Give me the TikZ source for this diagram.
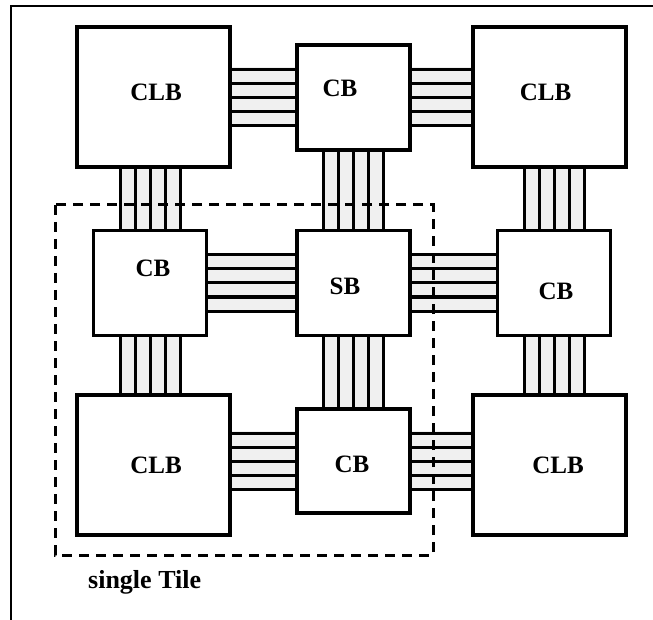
\documentclass[tikz,border=0pt]{standalone}
\usepackage{fontspec}
\setmainfont{Liberation Serif}
\usetikzlibrary{calc, positioning}

\begin{document}
\begin{tikzpicture}[x=1pt, y=-1pt,
    blk/.style={draw, line width=3.5pt, fill=white, inner sep=0pt},
    clb/.style={blk, minimum width=153pt, minimum height=140pt},
    cb/.style={blk, minimum width=113pt, minimum height=105pt},
    lbl/.style={font=\fontsize{25}{30}\selectfont\bfseries, inner sep=0pt},
    wire/.style={line width=3pt},
    bus/.style={fill=gray!12},
    tile/.style={line width=3pt, dash pattern=on 10pt off 7pt}]
  \useasboundingbox (0,0) rectangle (653,620);
  % page frame (top and left only)
  \draw[line width=2pt] (11,620) -- (11,6) -- (653,6);
  % blocks
  \path (153.5,97)  node[clb] (clbtl) {}
        (353.5,97.5) node[cb] (cbt) {}
        (549.5,97)  node[clb] (clbtr) {}
        (150,283)   node[cb] (cbl) {}
        (353.5,283) node[cb] (sb) {}
        (554,283)   node[cb] (cbr) {}
        (153.5,465) node[clb] (clbbl) {}
        (353.5,461) node[cb, minimum height=104pt] (cbb) {}
        (549.5,465) node[clb] (clbbr) {};
  % horizontal buses
  \foreach \a/\b/\r in {clbtl/cbt/cbt, cbt/clbtr/cbt, cbl/sb/sb, sb/cbr/sb,
                        clbbl/cbb/cbb, cbb/clbbr/cbb} {
    \fill[bus] ($(\r.center -| \a.east)+(0,-30)$) rectangle ($(\r.center -| \b.west)+(0,30)$);
    \foreach \d in {-28,-14,0,14,28}
      \draw[wire] ($(\r.center -| \a.east)+(0,\d)$) -- ($(\r.center -| \b.west)+(0,\d)$);
  }
  % vertical buses
  \foreach \a/\b/\r in {clbtl/cbl/cbl, cbt/sb/sb, clbtr/cbr/cbr,
                        cbl/clbbl/cbl, sb/cbb/sb, cbr/clbbr/cbr} {
    \fill[bus] ($(\r.center |- \a.south)+(-31,0)$) rectangle ($(\r.center |- \b.north)+(31,0)$);
    \foreach \d in {-30,-15,0,15,30}
      \draw[wire] ($(\r.center |- \a.south)+(\d,0)$) -- ($(\r.center |- \b.north)+(\d,0)$);
  }
  % redraw blocks on top of the wire ends
  \foreach \n/\s in {clbtl/clb, cbt/cb, clbtr/clb, cbl/cb, sb/cb, cbr/cb, clbbl/clb, clbbr/clb}
    \node[\s] at (\n) {};
  \node[cb, minimum height=104pt] at (cbb) {};
  % labels
  \node[lbl] (tclbtl) at ($(clbtl)+(2.5,-4.5)$) {CLB};
  \node[lbl] (tcbt)   at ($(cbt)+(-13.5,-9)$) {CB};
  \node[lbl] (tclbtr) at ($(clbtr)+(-4,-4.5)$) {CLB};
  \node[lbl] (tcbl)   at ($(cbl)+(3,-14.5)$) {CB};
  \node[lbl] (tsb)    at ($(sb)+(-8.5,3)$) {SB};
  \node[lbl] (tcbr)   at ($(cbr)+(2,8.5)$) {CB};
  \node[lbl] (tclbbl) at ($(clbbl)+(2.5,0)$) {CLB};
  \node[lbl] (tcbb)   at ($(cbb)+(-1.5,3.5)$) {CB};
  \node[lbl] (tclbbr) at ($(clbbr)+(8.5,0)$) {CLB};
  % single tile outline
  \draw[tile] (55,205) rectangle (433,555);
  \node[lbl, anchor=base west, font=\fontsize{26}{30}\selectfont\bfseries] (tilelbl) at (88,588) {single Tile};
\end{tikzpicture}
\end{document}
